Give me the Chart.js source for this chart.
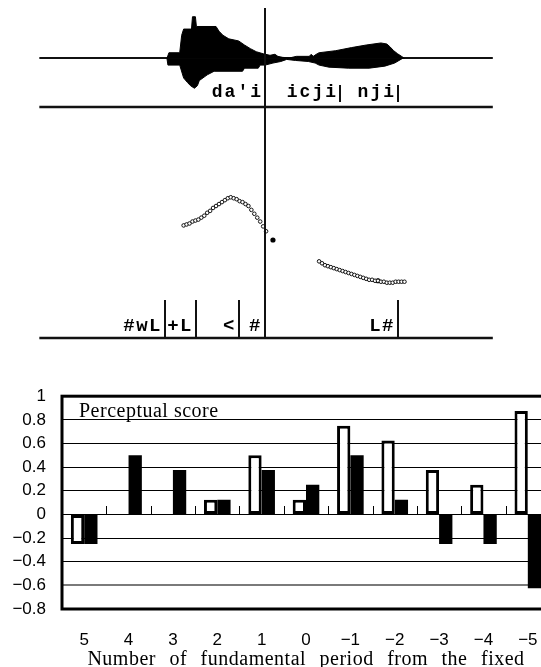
<!DOCTYPE html>
<html>
<head>
<meta charset="utf-8">
<script src="https://cdn.jsdelivr.net/npm/chart.js@4.4.1/dist/chart.umd.min.js"></script>
<style>
html,body{margin:0;padding:0;background:#fff;width:541px;height:667px;overflow:hidden;}
#wrap{position:relative;width:541px;height:667px;overflow:hidden;background:#fff;}
#top{position:absolute;left:0;top:0;}
#bars{position:absolute;left:0;top:370px;}
</style>
</head>
<body>
<div id="wrap">
<canvas id="top" width="541" height="345"></canvas>
<canvas id="bars" width="560" height="297"></canvas>
</div>
<script>
// ---------------- DATA ----------------
// Speech waveform envelope (time in ms from start of trace, normalized amplitude)
const waveUpperMs  = [258, 262, 284, 288, 292, 308, 310, 316, 318, 358, 364, 372, 384, 404, 416, 428, 440, 454, 468, 478, 484, 494, 508, 522, 548, 552, 556, 564, 568, 602, 634, 664, 694, 706, 712, 720, 728, 736, 742];
const waveUpperAmp = [0, 0.11, 0.11, 0.45, 0.57, 0.57, 0.81, 0.81, 0.62, 0.62, 0.53, 0.45, 0.38, 0.34, 0.26, 0.19, 0.13, 0.09, 0.06, 0.08, 0.04, 0.02, 0.01, 0.04, 0.04, 0.08, 0.04, 0.09, 0.11, 0.15, 0.21, 0.26, 0.30, 0.28, 0.23, 0.15, 0.09, 0.04, 0];
const waveLowerMs  = [258, 260, 284, 292, 300, 306, 314, 320, 324, 340, 354, 412, 416, 444, 448, 458, 474, 490, 502, 520, 546, 560, 568, 588, 628, 670, 702, 722, 738];
const waveLowerAmp = [0, -0.13, -0.13, -0.38, -0.47, -0.53, -0.58, -0.53, -0.43, -0.32, -0.25, -0.25, -0.19, -0.19, -0.13, -0.13, -0.09, -0.06, -0.02, -0.04, -0.06, -0.09, -0.13, -0.17, -0.19, -0.19, -0.15, -0.09, 0];
const traceEndMs = 922;
const fixedPointMs = 458;

// Segment labels
const wordLabels = ["da'i", "icji", "nji"];
const wordEndsMs = [458, 610, 728];
const toneLabels = ["#wL", "+L", "<", "#", "L#"];
const toneEndsMs = [254, 318, 404, 458, 728];

// F0 contour (ms, Hz)
const f0Seg1Ms = [292, 298, 304, 310, 316, 322, 328, 334, 340, 346, 352, 358, 364, 370, 376, 382, 388, 394, 400, 406, 412, 418, 424, 430, 436, 442, 448, 454, 460];
const f0Seg1Hz = [159, 160, 161, 163, 164, 165, 167, 169, 172, 174, 177, 179, 181, 183, 185, 187, 188, 187, 186, 184, 183, 181, 179, 175, 171, 167, 163, 158, 153];
const f0Seg2Ms = [568, 574, 580, 586, 592, 598, 604, 610, 616, 622, 628, 634, 640, 646, 652, 658, 664, 670, 676, 682, 688, 694, 700, 706, 712, 718, 724, 730, 736, 742];
const f0Seg2Hz = [122, 120, 118, 117, 116, 115, 114, 113, 112, 111, 110, 109, 108, 107, 106, 105, 104, 103, 103, 102, 102, 101, 101, 100, 100, 100, 101, 101, 101, 101];
const f0MarkMs = [474, 688];
const f0MarkHz = [144, 102];

// Perceptual score bar chart
const categories   = ['5', '4', '3', '2', '1', '0', '\u22121', '\u22122', '\u22123', '\u22124', '\u22125'];
const whiteScores  = [-0.25, null, null, 0.125, 0.5, 0.125, 0.75, 0.625, 0.375, 0.25, 0.875];
const blackScores  = [-0.25, 0.5, 0.375, 0.125, 0.375, 0.25, 0.5, 0.125, -0.25, -0.25, -0.625];
const scoreTicks   = [1, 0.8, 0.6, 0.4, 0.2, 0, -0.2, -0.4, -0.6, -0.8];
const panelLabel   = 'Perceptual score';
const xAxisTitle   = 'Number of fundamental period from the fixed';

// ---------------- LAYOUT ----------------
const TOP_W = 541, TOP_H = 345;
const X0 = 36, MS_PER_PX = 2;
const WAVE_ZERO = 55, WAVE_PX = 53;
const PITCH_REF_PX = 286, PITCH_REF_HZ = 100;
const RULE1 = 107, RULE2 = 338;

const zip = (xs, ys) => xs.map((v, i) => ({x: v, y: ys[i]}));

function hline(ctx, x0, x1, y){ ctx.beginPath(); ctx.moveTo(x0, y); ctx.lineTo(x1, y); ctx.stroke(); }
function vline(ctx, x, y0, y1){ ctx.beginPath(); ctx.moveTo(x, y0); ctx.lineTo(x, y1); ctx.stroke(); }

const topDecor = {
  id: 'topDecor',
  beforeDatasetsDraw(chart){
    const {ctx, scales:{x, yW}} = chart;
    const x0 = x.getPixelForValue(0) - 1, x1 = x.getPixelForValue(traceEndMs);
    ctx.save();
    ctx.strokeStyle = '#111';
    ctx.lineWidth = 2;
    hline(ctx, x0, x1, Math.round(yW.getPixelForValue(0)));
    ctx.lineWidth = 2.5;
    hline(ctx, x0, x1, RULE1);
    hline(ctx, x0, x1, RULE2);
    ctx.restore();
  },
  afterDatasetsDraw(chart){
    const {ctx, scales:{x}} = chart;
    ctx.save();
    ctx.strokeStyle = '#111';
    ctx.lineWidth = 2;
    const fx = Math.round(x.getPixelForValue(fixedPointMs));
    vline(ctx, fx, 8, RULE2);
    // word labels
    ctx.fillStyle = '#000';
    ctx.textAlign = 'right';
    ctx.textBaseline = 'alphabetic';
    ctx.font = 'bold 18px "Liberation Mono"';
    try { ctx.letterSpacing = '2px'; } catch(e) {}
    wordLabels.forEach((t, i) => {
      const px = Math.round(x.getPixelForValue(wordEndsMs[i]));
      vline(ctx, px, 85, 102);
      ctx.fillText(t, px - 2, 97);
    });
    ctx.font = 'bold 19px "Liberation Mono"';
    try { ctx.letterSpacing = '1.5px'; } catch(e) {}
    toneLabels.forEach((t, i) => {
      const px = Math.round(x.getPixelForValue(toneEndsMs[i]));
      vline(ctx, px, 300, RULE2);
      ctx.fillText(t, px - 3, 331);
    });
    ctx.restore();
  }
};

new Chart(document.getElementById('top'), {
  type: 'line',
  data: {
    datasets: [
      {data: zip(waveUpperMs, waveUpperAmp), yAxisID: 'yW', borderColor: '#000', backgroundColor: '#000', borderWidth: 1, fill: 'origin', pointRadius: 0, tension: 0},
      {data: zip(waveLowerMs, waveLowerAmp), yAxisID: 'yW', borderColor: '#000', backgroundColor: '#000', borderWidth: 1, fill: 'origin', pointRadius: 0, tension: 0},
      {data: zip(f0Seg1Ms, f0Seg1Hz), yAxisID: 'yP', showLine: false, pointRadius: 1.8, pointBorderWidth: 1, pointBorderColor: '#111', pointBackgroundColor: '#fff'},
      {data: zip(f0Seg2Ms, f0Seg2Hz), yAxisID: 'yP', showLine: false, pointRadius: 1.8, pointBorderWidth: 1, pointBorderColor: '#111', pointBackgroundColor: '#fff'},
      {data: zip(f0MarkMs, f0MarkHz), yAxisID: 'yP', showLine: false, pointRadius: 2.6, pointBorderWidth: 0, pointBackgroundColor: '#000'}
    ]
  },
  options: {
    responsive: false, animation: false, devicePixelRatio: 1,
    layout: {padding: 0},
    plugins: {legend: {display: false}, tooltip: {enabled: false}},
    scales: {
      x: {type: 'linear', display: false, min: -X0 * MS_PER_PX, max: (TOP_W - X0) * MS_PER_PX},
      yW: {type: 'linear', display: false, max: WAVE_ZERO / WAVE_PX, min: WAVE_ZERO / WAVE_PX - TOP_H / WAVE_PX},
      yP: {type: 'linear', display: false, max: PITCH_REF_HZ + PITCH_REF_PX, min: PITCH_REF_HZ + PITCH_REF_PX - TOP_H}
    }
  },
  plugins: [topDecor]
});

// ---------------- BAR CHART ----------------
const fmtTick = v => String(Math.round(v * 10) / 10).replace('-', '\u2212');

const barDecor = {
  id: 'barDecor',
  afterDatasetsDraw(chart){
    const {ctx, chartArea: a, scales:{x, y}} = chart;
    ctx.save();
    const y0 = Math.round(y.getPixelForValue(0));
    ctx.strokeStyle = '#000';
    ctx.lineWidth = 1;
    for (let i = 0; i < categories.length - 1; i++) {
      const bx = Math.round((x.getPixelForValue(i) + x.getPixelForValue(i + 1)) / 2) + 0.5;
      vline(ctx, bx, y0 - 8, y0);
    }
    ctx.lineWidth = 3;
    ctx.strokeRect(a.left, a.top, a.right - a.left, a.bottom - a.top);
    ctx.fillStyle = '#000';
    ctx.font = '20px "Liberation Serif"';
    ctx.textAlign = 'left';
    ctx.textBaseline = 'alphabetic';
    try { ctx.letterSpacing = '0.5px'; } catch(e) {}
    ctx.fillText(panelLabel, a.left + 17, a.top + 21);
    ctx.textAlign = 'center';
    try { ctx.letterSpacing = '0.5px'; ctx.wordSpacing = '8px'; } catch(e) {}
    ctx.fillText(xAxisTitle, (a.left + a.right) / 2, 295);
    ctx.restore();
  }
};

new Chart(document.getElementById('bars'), {
  type: 'bar',
  data: {
    labels: categories,
    datasets: [
      {data: whiteScores, backgroundColor: '#fff', borderColor: '#000', borderWidth: 3, borderSkipped: false, categoryPercentage: 0.6, barPercentage: 1},
      {data: blackScores, backgroundColor: '#000', borderColor: '#000', borderWidth: 0, categoryPercentage: 0.6, barPercentage: 1}
    ]
  },
  options: {
    responsive: false, animation: false, devicePixelRatio: 1,
    layout: {padding: {top: 17, right: 10, bottom: 0, left: 0}},
    plugins: {legend: {display: false}, tooltip: {enabled: false}},
    scales: {
      x: {
        grid: {display: false, drawTicks: false},
        border: {display: false},
        ticks: {color: '#000', font: {family: 'Liberation Sans', size: 17}, padding: 21, maxRotation: 0, autoSkip: false},
        afterFit: s => { s.height = 58; }
      },
      y: {
        min: -0.8, max: 1,
        afterBuildTicks: s => { s.ticks = scoreTicks.map(v => ({value: v})); },
        afterFit: s => { s.width = 62; },
        grid: {
          drawTicks: false,
          color: c => (c.tick && Math.abs(c.tick.value + 0.6) < 1e-6) ? '#7a7a7a' : '#000',
          lineWidth: c => (c.tick && Math.abs(c.tick.value + 0.6) < 1e-6) ? 2 : 1
        },
        border: {display: false},
        ticks: {color: '#000', font: {family: 'Liberation Sans', size: 17}, padding: 16, callback: v => fmtTick(v)}
      }
    }
  },
  plugins: [barDecor]
});
</script>
</body>
</html>
